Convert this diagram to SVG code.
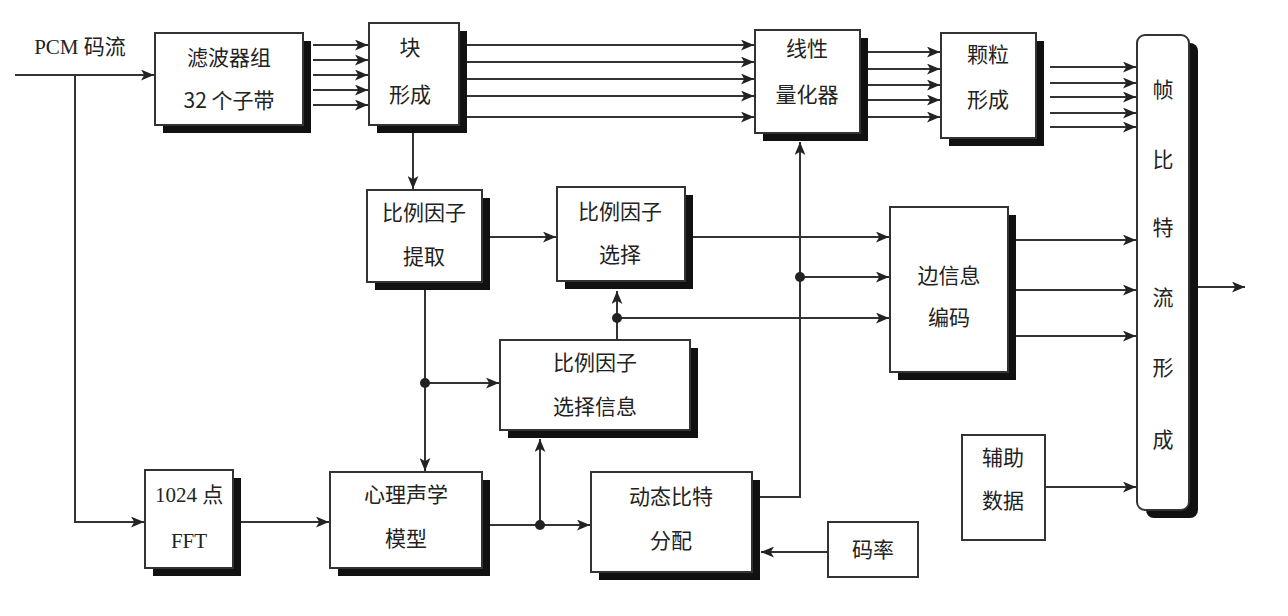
<svg xmlns="http://www.w3.org/2000/svg" width="1288" height="616" viewBox="0 0 1288 616">
<defs>
<marker id="a" viewBox="0 0 12 10" refX="12" refY="5" markerWidth="13" markerHeight="11" orient="auto" markerUnits="userSpaceOnUse"><path d="M0,0 L12,5 L0,10 L3,5 z" fill="#222"/></marker>
</defs>
<style>
.b{fill:#fff;stroke:#333;stroke-width:2}
.s{fill:#111}
.t{font-family:"Noto Sans CJK SC","Liberation Sans",sans-serif;font-size:21px;fill:#222;text-anchor:middle}
.l2{fill:none;stroke:#333;stroke-width:2;marker-end:url(#a)}
</style>
<rect width="1288" height="616" fill="#fff"/>
<text x="80" y="54" class="t" style="font-family:'Liberation Serif','Noto Sans CJK SC',serif">PCM 码流</text>
<g id="n1"><rect x="163" y="41" width="148" height="92" class="s"/><rect x="155" y="33" width="148" height="92" class="b"/><text x="229" y="65" class="t">滤波器组</text><text x="229" y="108" class="t">32 个子带</text></g>
<g id="n2"><rect x="377" y="31" width="90" height="102" class="s"/><rect x="369" y="23" width="90" height="102" class="b"/><text x="410" y="55" class="t">块</text><text x="410" y="102" class="t">形成</text></g>
<g id="n3"><rect x="763" y="38" width="105" height="103" class="s"/><rect x="755" y="30" width="105" height="103" class="b"/><text x="807" y="56" class="t">线性</text><text x="807" y="102" class="t">量化器</text></g>
<g id="n4"><rect x="949" y="41" width="95" height="105" class="s"/><rect x="941" y="33" width="95" height="105" class="b"/><text x="988" y="62" class="t">颗粒</text><text x="988" y="107" class="t">形成</text></g>
<g id="n5"><rect x="1146" y="43" width="52" height="475" rx="8" class="s"/><rect x="1137" y="35" width="52" height="475" rx="8" class="b"/>
<text x="1163" y="97" class="t">帧</text><text x="1163" y="167" class="t">比</text><text x="1163" y="235" class="t">特</text><text x="1163" y="305" class="t">流</text><text x="1163" y="375" class="t">形</text><text x="1163" y="447" class="t">成</text></g>
<g id="n6"><rect x="375" y="198" width="115" height="92" class="s"/><rect x="367" y="190" width="115" height="92" class="b"/><text x="424" y="220" class="t">比例因子</text><text x="424" y="264" class="t">提取</text></g>
<g id="n7"><rect x="565" y="195" width="128" height="94" class="s"/><rect x="557" y="187" width="128" height="94" class="b"/><text x="620" y="219" class="t">比例因子</text><text x="620" y="262" class="t">选择</text></g>
<g id="n8"><rect x="898" y="215" width="118" height="165" class="s"/><rect x="890" y="207" width="118" height="165" class="b"/><text x="949" y="283" class="t">边信息</text><text x="949" y="325" class="t">编码</text></g>
<g id="n9"><rect x="508" y="348" width="190" height="90" class="s"/><rect x="500" y="340" width="190" height="90" class="b"/><text x="595" y="370" class="t">比例因子</text><text x="595" y="414" class="t">选择信息</text></g>
<g id="n10"><rect x="153" y="478" width="88" height="98" class="s"/><rect x="145" y="470" width="88" height="98" class="b"/><text x="189" y="502" class="t" style="font-family:'Liberation Serif','Noto Sans CJK SC',serif">1024 点</text><text x="189" y="548" class="t" style="font-family:'Liberation Serif',serif">FFT</text></g>
<g id="n11"><rect x="338" y="480" width="152" height="96" class="s"/><rect x="330" y="472" width="152" height="96" class="b"/><text x="406" y="502" class="t">心理声学</text><text x="406" y="546" class="t">模型</text></g>
<g id="n12"><rect x="599" y="480" width="161" height="100" class="s"/><rect x="591" y="472" width="161" height="100" class="b"/><text x="671" y="504" class="t">动态比特</text><text x="671" y="548" class="t">分配</text></g>
<g id="n13"><rect x="828" y="522" width="90" height="55" class="b"/><text x="873" y="557" class="t">码率</text></g>
<g id="n14"><rect x="962" y="435" width="83" height="105" class="b"/><text x="1003" y="465" class="t">辅助</text><text x="1003" y="508" class="t">数据</text></g>
<g id="edges">
<path d="M15,75 H154" class="l2"/>
<path d="M75,75 V522 H144" class="l2"/>
<path d="M313,45 H368" class="l2"/><path d="M313,60 H368" class="l2"/><path d="M313,75 H368" class="l2"/><path d="M313,90 H368" class="l2"/><path d="M313,105 H368" class="l2"/>
<path d="M467,45 H754" class="l2"/><path d="M467,62 H754" class="l2"/><path d="M467,79 H754" class="l2"/><path d="M467,96 H754" class="l2"/><path d="M467,117 H754" class="l2"/>
<path d="M868,52 H940" class="l2"/><path d="M868,69 H940" class="l2"/><path d="M868,85 H940" class="l2"/><path d="M868,100 H940" class="l2"/><path d="M868,117 H940" class="l2"/>
<path d="M1050,67 H1136" class="l2"/><path d="M1050,83 H1136" class="l2"/><path d="M1050,97 H1136" class="l2"/><path d="M1050,113 H1136" class="l2"/><path d="M1050,127 H1136" class="l2"/>
<path d="M1198,287 H1245" class="l2"/>
<path d="M413,133 V189" class="l2"/>
<path d="M490,237 H556" class="l2"/>
<path d="M693,237 H889" class="l2"/>
<path d="M760,497 H800 V142" class="l2"/>
<path d="M800,277 H889" class="l2"/>
<path d="M617,340 V291" class="l2"/>
<path d="M617,318 H889" class="l2"/>
<path d="M1016,240 H1136" class="l2"/><path d="M1016,290 H1136" class="l2"/><path d="M1016,336 H1136" class="l2"/>
<path d="M425,290 V471" class="l2"/>
<path d="M425,383 H499" class="l2"/>
<path d="M241,522 H329" class="l2"/>
<path d="M490,525 H590" class="l2"/>
<path d="M540,525 V439" class="l2"/>
<path d="M828,552 H761" class="l2"/>
<path d="M1045,487 H1136" class="l2"/>
<circle cx="800" cy="277" r="5" fill="#222"/>
<circle cx="617" cy="318" r="5" fill="#222"/>
<circle cx="425" cy="383" r="5" fill="#222"/>
<circle cx="540" cy="525" r="5" fill="#222"/>
</g>
</svg>
